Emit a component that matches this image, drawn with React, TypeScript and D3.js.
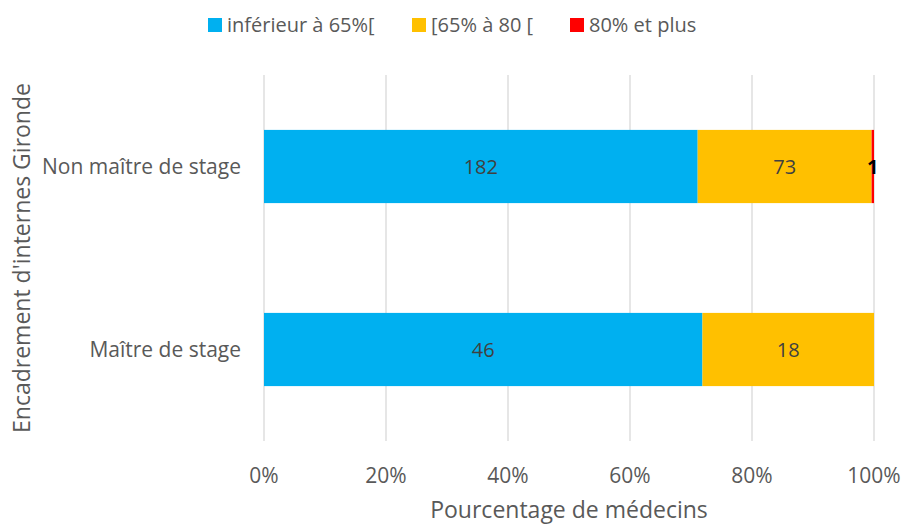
import React, { useRef, useEffect } from "react";
import * as d3 from "d3";

const categories = ["Non maître de stage", "Maître de stage"];
const seriesNames = ["inférieur à 65%[", "[65% à 80 [", "80% et plus"];
const seriesColors = ["#00B0F0", "#FFC000", "#FF0000"];
const below65 = [182, 46];
const from65to80 = [73, 18];
const above80 = [1, 0];
const tickValues = [0, 0.2, 0.4, 0.6, 0.8, 1];

const FONT = "'Open Sans', 'Noto Sans', sans-serif";

export default function App() {
  const ref = useRef<SVGSVGElement>(null);

  useEffect(() => {
    const svg = d3.select(ref.current);
    svg.selectAll("*").remove();

    const height = 524;
    const margin = { top: 75, right: 30, bottom: 83, left: 264 };

    const rows = categories.map((c, i) => {
      const vals = [below65[i], from65to80[i], above80[i]];
      const total = d3.sum(vals);
      let acc = 0;
      return {
        cat: c,
        segs: vals.map((v, k) => {
          const s = { k, v, x0: acc / total, x1: (acc + v) / total };
          acc += v;
          return s;
        }),
      };
    });

    const x = d3.scaleLinear().domain([0, 1]).range([margin.left, 874]);
    const y = d3
      .scaleBand()
      .domain(categories)
      .range([margin.top, height - margin.bottom])
      .paddingInner(0.6)
      .paddingOuter(0.3);

    // gridlines
    svg
      .append("g")
      .selectAll("line")
      .data(tickValues)
      .join("line")
      .attr("x1", (d) => x(d))
      .attr("x2", (d) => x(d))
      .attr("y1", margin.top)
      .attr("y2", height - margin.bottom)
      .attr("stroke", "#d9d9d9")
      .attr("stroke-width", 1.3);

    // tick labels
    svg
      .append("g")
      .selectAll("text")
      .data(tickValues)
      .join("text")
      .attr("x", (d) => x(d))
      .attr("y", 483)
      .attr("text-anchor", "middle")
      .attr("font-family", FONT)
      .attr("font-size", 21)
      .attr("fill", "#595959")
      .text((d) => d3.format(".0%")(d));

    // bars
    const g = svg
      .append("g")
      .selectAll("g")
      .data(rows)
      .join("g");

    g.selectAll("rect")
      .data((r) => r.segs.filter((s) => s.v > 0).map((s) => ({ ...s, cat: r.cat })))
      .join("rect")
      .attr("x", (d) => x(d.x0))
      .attr("width", (d) => x(d.x1) - x(d.x0))
      .attr("y", (d) => y(d.cat)!)
      .attr("height", y.bandwidth())
      .attr("fill", (d) => seriesColors[d.k]);

    g.selectAll("text")
      .data((r) => r.segs.filter((s) => s.v > 0).map((s) => ({ ...s, cat: r.cat })))
      .join("text")
      .attr("x", (d) => (x(d.x0) + x(d.x1)) / 2)
      .attr("y", (d) => y(d.cat)! + y.bandwidth() / 2)
      .attr("dy", "0.35em")
      .attr("text-anchor", "middle")
      .attr("font-family", FONT)
      .attr("font-size", 20)
      .attr("font-weight", (d) => (d.k === 2 ? "bold" : "normal"))
      .attr("fill", (d) => (d.k === 2 ? "#000" : "#404040"))
      .text((d) => d.v);

    // category labels
    svg
      .append("g")
      .selectAll("text")
      .data(categories)
      .join("text")
      .attr("x", 241)
      .attr("y", (d) => y(d)! + y.bandwidth() / 2)
      .attr("dy", "0.35em")
      .attr("text-anchor", "end")
      .attr("font-family", FONT)
      .attr("font-size", 21)
      .attr("fill", "#595959")
      .text((d) => d);

    // axis titles
    svg
      .append("text")
      .attr("x", 569)
      .attr("y", 518)
      .attr("text-anchor", "middle")
      .attr("font-family", FONT)
      .attr("font-size", 23)
      .attr("fill", "#595959")
      .text("Pourcentage de médecins");

    svg
      .append("text")
      .attr("transform", "rotate(-90)")
      .attr("x", -258)
      .attr("y", 30)
      .attr("text-anchor", "middle")
      .attr("font-family", FONT)
      .attr("font-size", 23)
      .attr("fill", "#595959")
      .text("Encadrement d'internes Gironde");

    // legend
    const legendX = [208, 412, 570];
    const lg = svg
      .append("g")
      .selectAll("g")
      .data(seriesNames)
      .join("g")
      .attr("transform", (d, i) => `translate(${legendX[i]},18)`);
    lg.append("rect")
      .attr("width", 14)
      .attr("height", 14)
      .attr("fill", (d, i) => seriesColors[i]);
    lg.append("text")
      .attr("x", 19)
      .attr("y", 7)
      .attr("dy", "0.35em")
      .attr("font-family", FONT)
      .attr("font-size", 20)
      .attr("fill", "#595959")
      .text((d) => d);
  }, []);

  return (
    <svg
      ref={ref}
      width={904}
      height={524}
      style={{ position: "absolute", left: 0, top: 0, background: "#fff" }}
    ></svg>
  );
}
